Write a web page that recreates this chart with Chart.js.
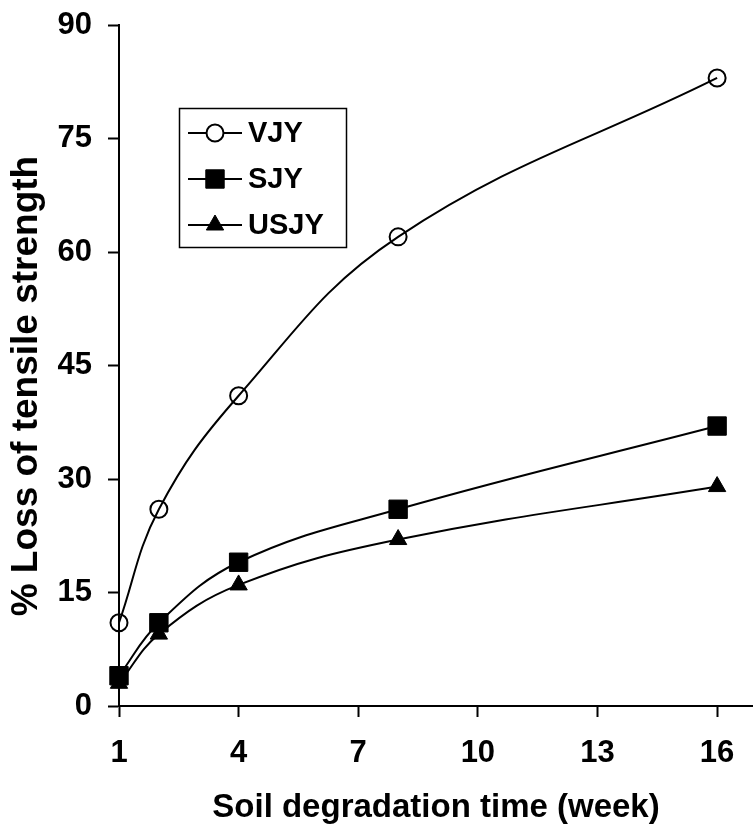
<!DOCTYPE html>
<html>
<head>
<meta charset="utf-8">
<script src="https://cdn.jsdelivr.net/npm/chart.js@4.4.0/dist/chart.umd.min.js"></script>
<style>
html, body { margin: 0; padding: 0; background: #fff; }
</style>
</head>
<body>
<canvas id="grafica" width="753" height="824"></canvas>
<script>
// datos
const semanas = [1, 2, 4, 8, 16];
const vjy = [11, 26, 41, 62, 83];
const sjy = [4, 11, 19, 26, 37];
const usjy = [3, 9.5, 16, 22, 29];
const xTicks = [1, 4, 7, 10, 13, 16];
const yTicks = [0, 15, 30, 45, 60, 75, 90];

const fuente = 'Liberation Sans, Arial, Helvetica, sans-serif';

function puntos(ys) {
    return semanas.map((x, i) => ({ x: x, y: ys[i] }));
}

// leyenda dibujada dentro del area del grafico
const leyenda = {
    id: 'leyenda',
    afterDatasetsDraw(chart) {
        const ctx = chart.ctx;
        ctx.save();
        ctx.fillStyle = '#fff';
        ctx.fillRect(179, 108, 167, 139);
        ctx.strokeStyle = '#000';
        ctx.lineWidth = 1.5;
        ctx.strokeRect(179.5, 108.5, 167, 139);
        chart.data.datasets.forEach((ds, i) => {
            const y = 133 + i * 46;
            ctx.beginPath();
            ctx.moveTo(188, y);
            ctx.lineTo(242, y);
            ctx.lineWidth = 2;
            ctx.strokeStyle = '#000';
            ctx.stroke();
            // en la leyenda el circulo va relleno de blanco
            ctx.fillStyle = ds.pointStyle === 'circle' ? '#fff' : ds.pointBackgroundColor;
            ctx.lineWidth = ds.pointBorderWidth;
            Chart.helpers.drawPoint(ctx, {
                pointStyle: ds.pointStyle,
                radius: ds.pointRadius,
                borderWidth: ds.pointBorderWidth,
                rotation: 0
            }, 215, y);
            ctx.fillStyle = '#000';
            ctx.font = 'bold 29px ' + fuente;
            ctx.textBaseline = 'middle';
            ctx.textAlign = 'left';
            ctx.fillText(ds.label, 248, y + 1);
        });
        ctx.restore();
    }
};

const canvas = document.getElementById('grafica');
new Chart(canvas, {
    type: 'scatter',
    data: {
        datasets: [
            {
                label: 'VJY',
                data: puntos(vjy),
                showLine: true,
                clip: false,
                borderColor: '#000',
                borderWidth: 2,
                tension: 0.4,
                pointStyle: 'circle',
                pointRadius: 8.5,
                pointBorderWidth: 2,
                pointBorderColor: '#000',
                pointBackgroundColor: 'rgba(0,0,0,0)',
            },
            {
                label: 'SJY',
                data: puntos(sjy),
                showLine: true,
                clip: false,
                borderColor: '#000',
                borderWidth: 2,
                tension: 0.4,
                pointStyle: 'rect',
                pointRadius: 13,
                pointBorderWidth: 1,
                pointBorderColor: '#000',
                pointBackgroundColor: '#000',
            },
            {
                label: 'USJY',
                data: puntos(usjy),
                showLine: true,
                clip: false,
                borderColor: '#000',
                borderWidth: 2,
                tension: 0.4,
                pointStyle: 'triangle',
                pointRadius: 10,
                pointBorderWidth: 1,
                pointBorderColor: '#000',
                pointBackgroundColor: '#000',
            },
        ],
    },
    options: {
        responsive: false,
        animation: false,
        devicePixelRatio: 1,
        layout: { autoPadding: false, padding: { top: 25, left: 0, right: 0, bottom: 0 } },
        plugins: {
            legend: { display: false },
            tooltip: { enabled: false },
        },
        scales: {
            x: {
                type: 'linear',
                min: 1,
                max: 16.9,
                afterBuildTicks: s => { s.ticks = xTicks.map(v => ({ value: v })); },
                afterFit: s => { s.height = 118; s.paddingLeft = 0; s.paddingRight = 0; },
                border: { display: true, color: '#000', width: 2 },
                grid: { display: true, drawOnChartArea: false, drawTicks: true, tickLength: 11, tickColor: '#000', tickWidth: 2 },
                ticks: { color: '#000', padding: 18, maxRotation: 0, autoSkip: false, font: { family: fuente, size: 31, weight: 'bold' } },
                title: { display: true, text: 'Soil degradation time (week)', color: '#000', padding: { top: 0, bottom: 0 }, font: { family: fuente, size: 33, weight: 'bold', lineHeight: 1 } },
            },
            y: {
                min: 0,
                max: 90,
                afterBuildTicks: s => { s.ticks = yTicks.map(v => ({ value: v })); },
                afterFit: s => { s.width = 119; s.paddingTop = 0; s.paddingBottom = 0; },
                border: { display: true, color: '#000', width: 2 },
                grid: { display: true, drawOnChartArea: false, drawTicks: true, tickLength: 11, tickColor: '#000', tickWidth: 2 },
                ticks: { color: '#000', padding: 16, font: { family: fuente, size: 31, weight: 'bold' } },
                title: { display: true, text: '% Loss of tensile strength    ', color: '#000', padding: { top: 8, bottom: 0 }, font: { family: fuente, size: 37, weight: 'bold', lineHeight: 1 } },
            },
        },
    },
    plugins: [leyenda],
});
</script>
</body>
</html>
